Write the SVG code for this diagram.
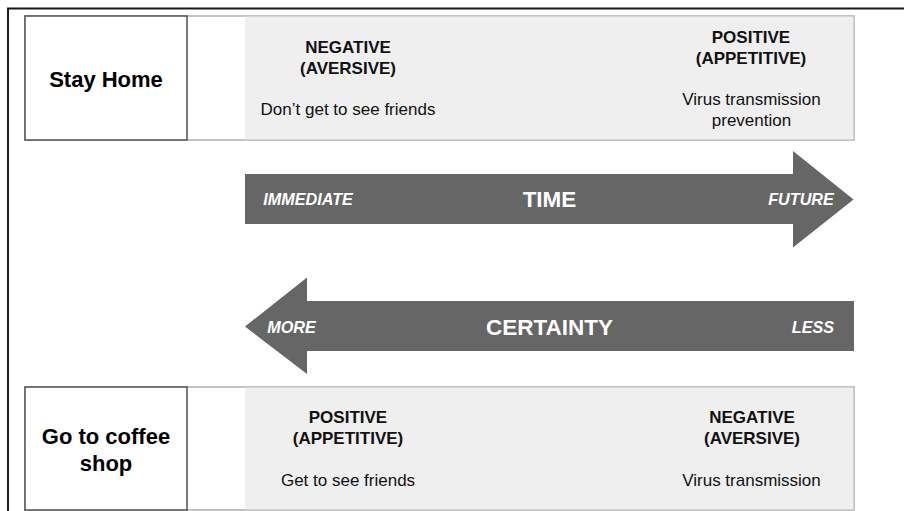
<svg xmlns="http://www.w3.org/2000/svg" width="904" height="511" viewBox="0 0 904 511">
  <style>
    .frame { fill: none; stroke: #1a1a1a; stroke-width: 2; }
    .row { fill: #ffffff; stroke: #9a9a9a; stroke-width: 1.2; }
    .panel { fill: #efefef; stroke: none; }
    .choice { fill: #ffffff; stroke: #5a5a5a; stroke-width: 1.6; }
    .arrow { fill: #666666; }
    text { font-family: "Liberation Sans", Arial, sans-serif; text-anchor: middle; }
    .choice-label { font-size: 22px; font-weight: bold; fill: #000; }
    .valence { font-size: 17px; font-weight: bold; fill: #111; }
    .outcome { font-size: 17px; fill: #111; }
    .axis { font-size: 22.5px; font-weight: bold; fill: #fff; }
    .pole { font-size: 16.2px; font-weight: bold; font-style: italic; fill: #fff; }
  </style>

  <!-- outer frame: top and left rules -->
  <path class="frame" d="M8 511 V8.5 H904"/>

  <!-- choice 1: stay home -->
  <g id="stay-home">
    <rect class="row" x="25" y="16" width="829" height="124"/>
    <rect class="panel" x="245" y="16.6" width="608.4" height="122.8"/>
    <rect class="choice" x="25" y="16" width="162" height="124"/>
    <text class="choice-label" x="106" y="87">Stay Home</text>
  </g>
  <g id="stay-home-now">
    <text class="valence" x="348" y="53">NEGATIVE</text>
    <text class="valence" x="348" y="74">(AVERSIVE)</text>
    <text class="outcome" x="348" y="115">Don’t get to see friends</text>
  </g>
  <g id="stay-home-later">
    <text class="valence" x="751" y="43">POSITIVE</text>
    <text class="valence" x="751" y="64">(APPETITIVE)</text>
    <text class="outcome" x="751.5" y="105">Virus transmission</text>
    <text class="outcome" x="751.5" y="126">prevention</text>
  </g>

  <!-- axes -->
  <g id="connectors">
    <g id="time-axis">
      <polygon class="arrow" points="245,174 793,174 793,151 853.5,199.5 793,247.5 793,224 245,224"/>
      <text class="pole" x="308" y="205">IMMEDIATE</text>
      <text class="axis" x="549.5" y="207">TIME</text>
      <text class="pole" x="801" y="205">FUTURE</text>
    </g>
    <g id="certainty-axis">
      <polygon class="arrow" points="854,301 307,301 307,277.5 245,326.5 307,374 307,351 854,351"/>
      <text class="pole" x="291.5" y="333">MORE</text>
      <text class="axis" x="549.5" y="335">CERTAINTY</text>
      <text class="pole" x="813" y="333">LESS</text>
    </g>
  </g>

  <!-- choice 2: go to coffee shop -->
  <g id="coffee-shop">
    <rect class="row" x="25" y="387" width="829" height="123"/>
    <rect class="panel" x="245" y="387.6" width="608.4" height="121.8"/>
    <rect class="choice" x="25" y="387" width="162" height="123"/>
    <text class="choice-label" x="106" y="444">Go to coffee</text>
    <text class="choice-label" x="106" y="471">shop</text>
  </g>
  <g id="coffee-shop-now">
    <text class="valence" x="348" y="423">POSITIVE</text>
    <text class="valence" x="348" y="444">(APPETITIVE)</text>
    <text class="outcome" x="348" y="486">Get to see friends</text>
  </g>
  <g id="coffee-shop-later">
    <text class="valence" x="752" y="423">NEGATIVE</text>
    <text class="valence" x="752" y="444">(AVERSIVE)</text>
    <text class="outcome" x="751.5" y="486">Virus transmission</text>
  </g>
</svg>
